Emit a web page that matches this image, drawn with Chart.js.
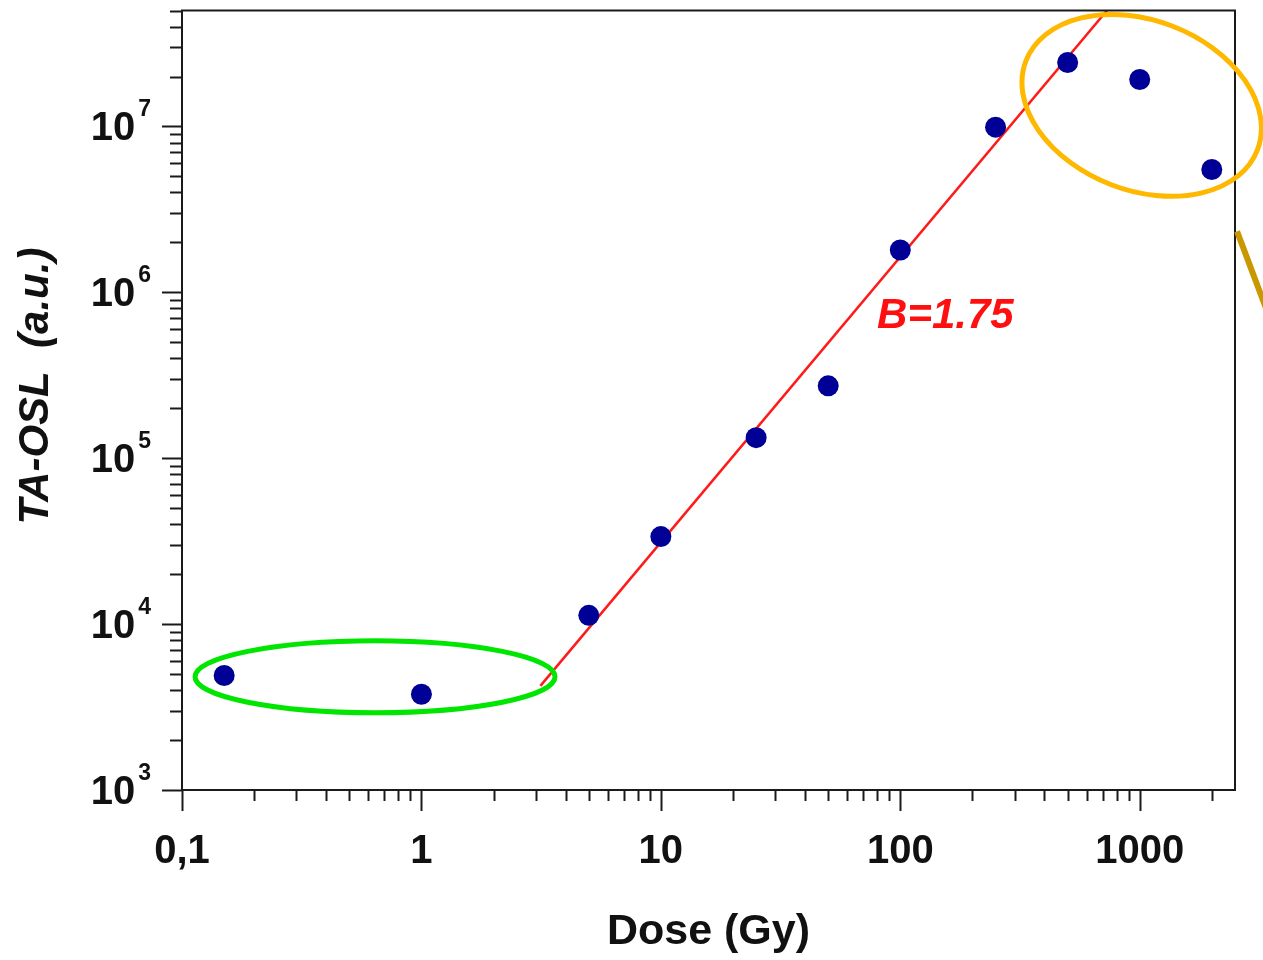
<!DOCTYPE html>
<html>
<head>
<meta charset="utf-8">
<title>TA-OSL vs Dose</title>
<script src="https://cdn.jsdelivr.net/npm/chart.js@4.4.1/dist/chart.umd.min.js"></script>
<style>
  html, body { margin: 0; padding: 0; background: #fff; }
  #wrap { width: 1263px; height: 960px; position: relative; }
</style>
</head>
<body>
<div id="wrap"><canvas id="oslChart"></canvas></div>
<script>
// --- Data ---
const doses = [0.15, 1, 5, 10, 25, 50, 100, 250, 500, 1000, 2000];
const signal = [4900, 3780, 11300, 33700, 133000, 273000, 1.8e6, 9.9e6, 2.43e7, 1.92e7, 5.5e6];

// fitted power law (B = 1.75), end points
const fitX = [3.14, 730];
const fitY = [4240, 5e7];
const fitLabel = 'B=1.75';
const fitLabelAt = [80, 7.2e5];

// axis ticks
const xTickValues = [0.1, 1, 10, 100, 1000];
const xTickLabels = ['0,1', '1', '10', '100', '1000'];
const yTickExps = [3, 4, 5, 6, 7];

// highlighted groups (centres in data units)
const lowGroupCentre = [0.64, 4810];
const highGroupCentre = [1019, 1.34e7];
const pointerFrom = [2550, 2.33e6];
const pointerTo = [3660, 5.85e5];

const FONT = '"Liberation Sans", Arial, Helvetica, sans-serif';

// Draws frame, ticks, labels and the hand-drawn style annotations
const decorPlugin = {
  id: 'decor',
  afterDatasetsDraw(chart) {
    const { ctx, chartArea: a, scales: { x, y } } = chart;
    ctx.save();

    // frame
    ctx.strokeStyle = '#1a1a1a';
    ctx.lineWidth = 2;
    ctx.strokeRect(a.left, a.top, a.right - a.left, a.bottom - a.top);

    // x ticks (outside, below)
    for (let d = -1; d <= 3; d++) {
      for (let m = 1; m <= 9; m++) {
        const v = m * Math.pow(10, d);
        if (v < x.min - 1e-9 || v > x.max) continue;
        const px = Math.round(x.getPixelForValue(v)) + 0.5;
        ctx.beginPath();
        ctx.moveTo(px, a.bottom);
        ctx.lineTo(px, a.bottom + (m === 1 ? 21 : 11));
        ctx.stroke();
      }
    }
    // y ticks (outside, left)
    for (let d = 3; d <= 7; d++) {
      for (let m = 1; m <= 9; m++) {
        const v = m * Math.pow(10, d);
        if (v < y.min - 1e-9 || v > y.max) continue;
        const py = Math.round(y.getPixelForValue(v)) + 0.5;
        ctx.beginPath();
        ctx.moveTo(a.left, py);
        ctx.lineTo(a.left - (m === 1 ? 20 : 12), py);
        ctx.stroke();
      }
    }

    // x tick labels
    ctx.fillStyle = '#111';
    ctx.font = 'bold 40px ' + FONT;
    ctx.textAlign = 'center';
    ctx.textBaseline = 'middle';
    xTickValues.forEach((v, i) => {
      ctx.fillText(xTickLabels[i], x.getPixelForValue(v), a.bottom + 62);
    });

    // y tick labels: 10 with superscript exponent
    yTickExps.forEach(e => {
      const py = y.getPixelForValue(Math.pow(10, e));
      const supRight = a.left - 31;
      ctx.font = 'bold 23px ' + FONT;
      const supW = ctx.measureText(String(e)).width;
      ctx.textAlign = 'left';
      ctx.textBaseline = 'alphabetic';
      ctx.fillText(String(e), supRight - supW, py - 10);
      ctx.font = 'bold 40px ' + FONT;
      ctx.textAlign = 'right';
      ctx.fillText('10', supRight - supW - 3, py + 14);
    });

    // axis titles
    ctx.font = 'bold 43px ' + FONT;
    ctx.textAlign = 'center';
    ctx.textBaseline = 'middle';
    ctx.fillText('Dose (Gy)', (a.left + a.right) / 2, 932);

    ctx.save();
    ctx.translate(36, 386);
    ctx.rotate(-Math.PI / 2);
    ctx.font = 'italic bold 42px ' + FONT;
    ctx.fillText('TA-OSL  (a.u.)', 0, 0);
    ctx.restore();

    // fit label
    ctx.fillStyle = '#ff1010';
    ctx.font = 'italic bold 42px ' + FONT;
    ctx.textAlign = 'left';
    ctx.textBaseline = 'middle';
    ctx.fillText(fitLabel, x.getPixelForValue(fitLabelAt[0]), y.getPixelForValue(fitLabelAt[1]));

    // green ellipse round the low-dose points
    ctx.lineWidth = 5;
    ctx.strokeStyle = '#00e600';
    ctx.beginPath();
    ctx.ellipse(x.getPixelForValue(lowGroupCentre[0]), y.getPixelForValue(lowGroupCentre[1]), 180, 36, 0, 0, Math.PI * 2);
    ctx.stroke();

    // orange ellipse round the saturated points
    ctx.strokeStyle = '#ffb800';
    ctx.beginPath();
    ctx.ellipse(x.getPixelForValue(highGroupCentre[0]), y.getPixelForValue(highGroupCentre[1]), 124, 85, 21 * Math.PI / 180, 0, Math.PI * 2);
    ctx.stroke();

    // pointer going off to the right
    ctx.strokeStyle = '#c99700';
    ctx.lineWidth = 6;
    ctx.beginPath();
    ctx.moveTo(x.getPixelForValue(pointerFrom[0]), y.getPixelForValue(pointerFrom[1]));
    ctx.lineTo(x.getPixelForValue(pointerTo[0]), y.getPixelForValue(pointerTo[1]));
    ctx.stroke();

    ctx.restore();
  }
};

const canvas = document.getElementById('oslChart');

new Chart(canvas, {
  type: 'scatter',
  data: {
    datasets: [
      {
        label: 'fit',
        data: fitX.map((v, i) => ({ x: v, y: fitY[i] })),
        showLine: true,
        borderColor: '#ff1a1a',
        borderWidth: 2.5,
        pointRadius: 0,
        order: 2
      },
      {
        label: 'TA-OSL',
        data: doses.map((v, i) => ({ x: v, y: signal[i] })),
        backgroundColor: '#000096',
        borderColor: '#000096',
        pointRadius: 10.5,
        borderWidth: 0,
        order: 1
      }
    ]
  },
  options: {
    responsive: true,
    maintainAspectRatio: false,
    animation: false,
    layout: { padding: { top: 9, right: 28, left: 0, bottom: 0 } },
    plugins: {
      legend: { display: false },
      tooltip: { enabled: false }
    },
    scales: {
      x: {
        type: 'logarithmic',
        min: 0.1,
        max: 2500,
        ticks: { display: false },
        grid: { display: false },
        border: { display: false },
        afterFit(scale) { scale.height = 170; }
      },
      y: {
        type: 'logarithmic',
        min: 1000,
        max: 5e7,
        ticks: { display: false },
        grid: { display: false },
        border: { display: false },
        afterFit(scale) { scale.width = 182; }
      }
    }
  },
  plugins: [decorPlugin]
});
</script>
</body>
</html>
